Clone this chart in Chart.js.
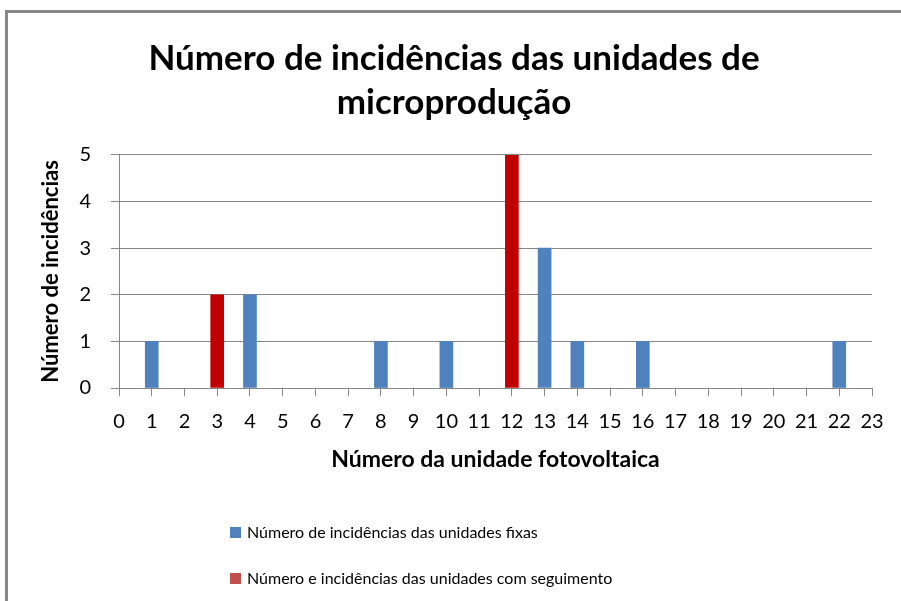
<!DOCTYPE html>
<html>
<head>
<meta charset="utf-8">
<script src="https://cdn.jsdelivr.net/npm/chart.js@4"></script>
<style>
  html, body { margin: 0; padding: 0; background: #fff; overflow: hidden; }
  #moldura { position: absolute; left: 5px; top: 10px; width: 1000px; height: 1000px;
             border-left: 3px solid #878787; border-top: 3px solid #878787; }
  #grafico { position: absolute; left: 0; top: 0; }
</style>
</head>
<body>
<div id="moldura"></div>
<canvas id="grafico" width="901" height="601"></canvas>
<script>
const unidades = ['0', '1', '2', '3', '4', '5', '6', '7', '8', '9', '10', '11',
    '12', '13', '14', '15', '16', '17', '18', '19', '20', '21', '22', '23'];
// null = unidade sem incidências registadas nessa série
const incidenciasFixas = [null, 1, null, null, 2, null, null, null, 1, null, 1, null,
    null, 3, 1, null, 1, null, null, null, null, null, 1, null];
const incidenciasSeguimento = [null, null, null, 2, null, null, null, null, null, null, null, null,
    5, null, null, null, null, null, null, null, null, null, null, null];
const nomesSeries = ['Número de incidências das unidades fixas',
    'Número e incidências das unidades com seguimento'];
const titulo = ['Número de incidências das unidades de', 'microprodução'];

const fonte = 'Lato, "Noto Sans", sans-serif';
const cinza = '#868686';
const coresLegenda = ['#4F81BD', '#C0504D'];

// legenda em coluna, como no Excel
const legendaColuna = {
    id: 'legendaColuna',
    afterDraw(chart) {
        const ctx = chart.ctx;
        ctx.save();
        ctx.font = '16px ' + fonte;
        ctx.textBaseline = 'middle';
        chart.data.datasets.forEach((ds, i) => {
            const y = 533 + i * 46;
            ctx.fillStyle = coresLegenda[i];
            ctx.fillRect(230, y - 6, 11, 11);
            ctx.fillStyle = '#000';
            ctx.fillText(ds.label, 247, y);
        });
        ctx.restore();
    }
};

new Chart(document.getElementById('grafico'), {
    type: 'bar',
    data: {
        labels: unidades,
        datasets: [{
            label: nomesSeries[0],
            data: incidenciasFixas,
            backgroundColor: '#4F81BD',
            grouped: false,
            barThickness: 13
        }, {
            label: nomesSeries[1],
            data: incidenciasSeguimento,
            backgroundColor: '#C00000',
            grouped: false,
            barThickness: 13
        }]
    },
    options: {
        responsive: false,
        animation: false,
        layout: { padding: { left: 36, right: 29, top: 0, bottom: 123 } },
        plugins: {
            legend: { display: false },
            tooltip: { enabled: false },
            title: {
                display: true,
                text: titulo,
                color: '#000',
                font: { family: fonte, size: 35, weight: 'bold', lineHeight: 1.27 },
                padding: { top: 36, bottom: 30 }
            }
        },
        scales: {
            x: {
                offset: false,
                grid: { offset: false, drawOnChartArea: false, tickLength: 8, color: cinza },
                border: { color: cinza },
                ticks: { color: '#000', font: { family: fonte, size: 20 }, maxRotation: 0, autoSkip: false, padding: 14 },
                title: {
                    display: true,
                    text: 'Número da unidade fotovoltaica',
                    color: '#000',
                    font: { family: fonte, size: 23, weight: 'bold' },
                    padding: { top: 0, bottom: 5 }
                },
                afterFit(s) { s.height = 90; }
            },
            y: {
                min: 0,
                max: 5,
                ticks: { stepSize: 1, color: '#000', font: { family: fonte, size: 20 }, padding: 20 },
                grid: { color: cinza, tickLength: 8 },
                border: { color: cinza },
                title: {
                    display: true,
                    text: 'Número de incidências',
                    color: '#000',
                    font: { family: fonte, size: 22, weight: 'bold' },
                    padding: { top: 2, bottom: 0 }
                },
                afterFit(s) { s.width = 83; }
            }
        }
    },
    plugins: [legendaColuna]
});
</script>
</body>
</html>
